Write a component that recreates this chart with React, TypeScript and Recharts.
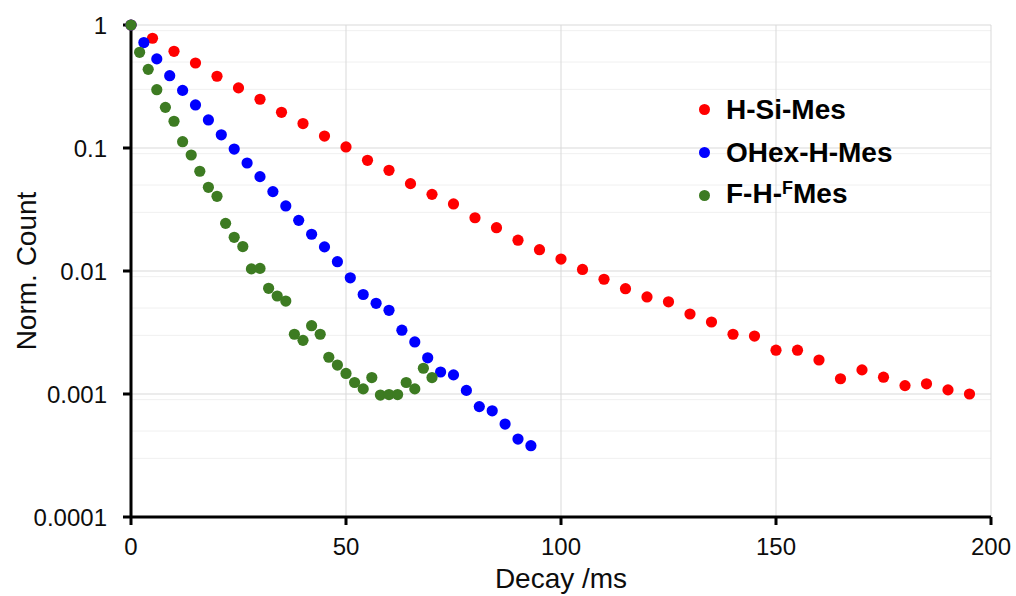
import React from 'react';
import { ScatterChart, Scatter, XAxis, YAxis, CartesianGrid, Label } from 'recharts';

const FONT = '"Liberation Sans", Arial, Helvetica, sans-serif';

// H-Si-Mes (red), every 5 ms
const hSiTime = [0, 5, 10, 15, 20, 25, 30, 35, 40, 45, 50, 55, 60, 65, 70, 75, 80, 85, 90, 95,
  100, 105, 110, 115, 120, 125, 130, 135, 140, 145, 150, 155, 160, 165, 170, 175, 180, 185, 190, 195];
const hSiCount = [1, 0.78, 0.611, 0.491, 0.383, 0.308, 0.249, 0.195, 0.158, 0.125, 0.102, 0.0794, 0.0659, 0.0513,
  0.042, 0.0351, 0.0271, 0.0225, 0.0178, 0.0149, 0.0125, 0.0103, 0.00857, 0.00718, 0.00615, 0.00562, 0.00447,
  0.00385, 0.00306, 0.00296, 0.00227, 0.00227, 0.00189, 0.00133, 0.00157, 0.00137, 0.00117, 0.00121, 0.00108, 0.001];

// OHex-H-Mes (blue), every 3 ms
const oHexTime = [0, 3, 6, 9, 12, 15, 18, 21, 24, 27, 30, 33, 36, 39, 42, 45, 48, 51, 54, 57, 60, 63, 66, 69,
  72, 75, 78, 81, 84, 87, 90, 93];
const oHexCount = [1, 0.72, 0.53, 0.387, 0.294, 0.224, 0.169, 0.128, 0.098, 0.0755, 0.0585, 0.0442, 0.0338, 0.0258,
  0.0199, 0.0157, 0.0119, 0.0088, 0.00644, 0.00546, 0.00479, 0.0033, 0.00265, 0.00197, 0.00151, 0.00143, 0.00107,
  0.00079, 0.00073, 0.00057, 0.00043, 0.00038];

// F-H-FMes (green), every 2 ms
const fHTime = [0, 2, 4, 6, 8, 10, 12, 14, 16, 18, 20, 22, 24, 26, 28, 30, 32, 34, 36, 38, 40, 42, 44, 46, 48,
  50, 52, 54, 56, 58, 60, 62, 64, 66, 68, 70];
const fHCount = [1, 0.6, 0.436, 0.298, 0.214, 0.165, 0.1125, 0.0877, 0.0647, 0.0479, 0.0405, 0.0244, 0.0188, 0.0158,
  0.0104, 0.0105, 0.00723, 0.00626, 0.0057, 0.00306, 0.00273, 0.00359, 0.00306, 0.00199, 0.00172, 0.00147, 0.00124,
  0.0011, 0.00136, 0.00098, 0.00099, 0.00099, 0.00124, 0.0011, 0.00162, 0.00136];

const xTicks = [0, 50, 100, 150, 200];
const yTicks = [0.0001, 0.001, 0.01, 0.1, 1];
const yTickLabels = ['0.0001', '0.001', '0.01', '0.1', '1'];
const minorSteps = [2, 3, 4, 5, 6, 7, 8, 9];

const RED = '#ff0000';
const BLUE = '#0000ff';
const GREEN = '#3d7b22';

const toPoints = (xs: number[], ys: number[]) => xs.map((x, i) => ({ x, y: ys[i] }));

const hSiData = toPoints(hSiTime, hSiCount);
const oHexData = toPoints(oHexTime, oHexCount);
const fHData = toPoints(fHTime, fHCount);

const minorValues = yTicks.slice(0, -1).flatMap(d => minorSteps.map(m => +(d * m).toPrecision(3)));

const dot = (color: string) => (props: any) => (
  <circle cx={props.cx} cy={props.cy} r={5.6} fill={color} />
);

const legendItems = [
  { color: RED, label: <>H-Si-Mes</> },
  { color: BLUE, label: <>OHex-H-Mes</> },
  { color: GREEN, label: <>F-H-<span style={{ fontSize: 18, position: 'relative', top: -9 }}>F</span>Mes</> },
];

const LegendBox = () => (
  <div style={{ position: 'absolute', left: 699, top: 88, fontFamily: FONT, fontWeight: 700, fontSize: 28, color: '#000' }}>
    {legendItems.map((it, i) => (
      <div key={i} style={{ display: 'flex', alignItems: 'center', height: 43 }}>
        <span style={{ width: 11, height: 11, borderRadius: '50%', background: it.color, display: 'inline-block' }} />
        <span style={{ marginLeft: 16, lineHeight: '43px', whiteSpace: 'nowrap' }}>{it.label}</span>
      </div>
    ))}
  </div>
);

export default function App() {
  return (
    <div style={{ position: 'absolute', left: 0, top: 0, width: 1016, height: 596, background: '#fff' }}>
      <ScatterChart width={1016} height={596} margin={{ top: 25, right: 25, bottom: 0, left: 0 }}>
        <CartesianGrid horizontalValues={minorValues} vertical={false} stroke="#f0f0f0" strokeWidth={1} />
        <CartesianGrid stroke="#d9d9d9" strokeWidth={1} verticalValues={xTicks} horizontalValues={yTicks} />
        <XAxis
          type="number"
          dataKey="x"
          domain={[0, 200]}
          ticks={xTicks}
          height={79}
          tickSize={8}
          tickMargin={13}
          axisLine={{ stroke: '#000', strokeWidth: 3 }}
          tickLine={{ stroke: '#000', strokeWidth: 3 }}
          tick={{ fill: '#0d0d0d', fontSize: 24, fontFamily: FONT }}
        >
          <Label value="Decay /ms" position="insideBottom" offset={8}
            style={{ fill: '#0d0d0d', fontSize: 28, fontFamily: FONT }} />
        </XAxis>
        <YAxis
          type="number"
          dataKey="y"
          scale="log"
          domain={[0.0001, 1]}
          ticks={yTicks}
          width={131}
          tickSize={8}
          tickMargin={16}
          tickFormatter={(v: number) => yTickLabels[yTicks.indexOf(v)] ?? String(v)}
          axisLine={{ stroke: '#000', strokeWidth: 3 }}
          tickLine={{ stroke: '#000', strokeWidth: 3 }}
          tick={{ fill: '#0d0d0d', fontSize: 24, fontFamily: FONT }}
        >
          <Label
            content={() => (
              <text x={36} y={271} transform="rotate(-90 36 271)" textAnchor="middle"
                style={{ fill: '#0d0d0d', fontSize: 28, fontFamily: FONT }}>
                Norm. Count
              </text>
            )}
          />
        </YAxis>
        <Scatter name="H-Si-Mes" data={hSiData} fill={RED} shape={dot(RED)} isAnimationActive={false} />
        <Scatter name="OHex-H-Mes" data={oHexData} fill={BLUE} shape={dot(BLUE)} isAnimationActive={false} />
        <Scatter name="F-H-FMes" data={fHData} fill={GREEN} shape={dot(GREEN)} isAnimationActive={false} />
      </ScatterChart>
      <LegendBox />
    </div>
  );
}
